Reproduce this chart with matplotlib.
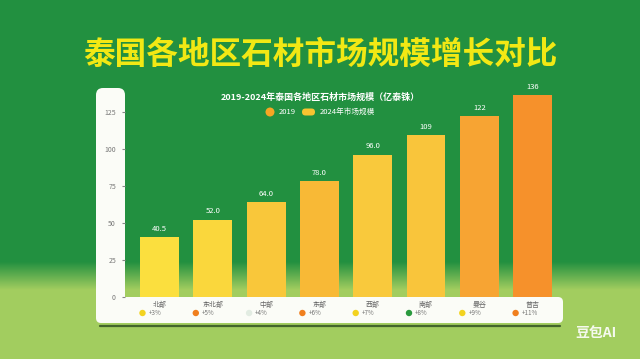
import numpy as np
import matplotlib
matplotlib.use('Agg')
import matplotlib.pyplot as plt
from matplotlib.patches import FancyBboxPatch, Circle

plt.rcParams['font.family'] = ['Noto Sans CJK SC', 'DejaVu Sans']

# data
regions = ['北部', '东北部', '中部', '东部', '西部', '南部', '曼谷', '普吉']
sizes = [40.5, 52, 64, 78, 96, 109, 122, 136]
value_labels = ['40.5', '52.0', '64.0', '78.0', '96.0', '109', '122', '136']
growth = ['+3%', '+5%', '+4%', '+6%', '+7%', '+8%', '+9%', '+11%']
yticks = [0, 25, 50, 75, 100, 125]
bar_colors = ['#fbdf3e', '#fad73c', '#f9c73a', '#f8b936', '#f9c93c', '#f9c53b', '#f7a433', '#f6912b']
dot_colors = ['#f3d320', '#f07f1e', '#e2ece2', '#f07f1e', '#f3d320', '#2a9a3e', '#f3d320', '#f07f1e']

W, H = 640, 359
fig = plt.figure(figsize=(6.4, 3.59), dpi=100)

# background gradient
bg = fig.add_axes([0, 0, 1, 1])
bg.set_axis_off()
rows = np.linspace(0, 1, H)
top = np.array([0x22, 0x90, 0x40]) / 255
low = np.array([0xa2, 0xcd, 0x5f]) / 255
t = np.clip((rows * H - 262) / 28, 0, 1)[:, None]
grad = top * (1 - t) + low * t
img = np.repeat(grad[:, None, :], 8, axis=1)
bg.imshow(img, aspect='auto', extent=[0, W, H, 0])
bg.set_xlim(0, W)
bg.set_ylim(H, 0)

# shadow under panel
bg.plot([100, 560], [325.5, 325.5], color='#24421a', lw=1.6, alpha=0.75, solid_capstyle='round')

# white panels
bg.add_patch(FancyBboxPatch((96, 88), 29, 234, boxstyle='round,pad=0,rounding_size=7',
                            fc='#fbfcf7', ec='none'))
bg.add_patch(FancyBboxPatch((96, 297), 467, 26, boxstyle='round,pad=0,rounding_size=5',
                            fc='#fbfcf7', ec='none'))

# title, subtitle
bg.text(320, 55, '泰国各地区石材市场规模增长对比', color='#f2e814', fontsize=22.8,
        fontweight='bold', ha='center', va='center')
bg.text(320, 97, '2019-2024年泰国各地区石材市场规模（亿泰铢）', color='white', fontsize=6.5,
        fontweight='bold', ha='center', va='center')

# legend
bg.add_patch(Circle((270, 112), 4.5, fc='#f6a623', ec='none'))
bg.text(279, 112, '2019', color='white', fontsize=5.5, ha='left', va='center')
bg.add_patch(FancyBboxPatch((302, 108.5), 13, 7, boxstyle='round,pad=0,rounding_size=3.5',
                            fc='#f8c431', ec='none'))
bg.text(320, 112, '2024年市场规模', color='white', fontsize=5.5, ha='left', va='center')

# category labels and dots
step = 53.3
for i in range(len(regions)):
    cx = 159.5 + i * step
    bg.text(cx, 305, regions[i], color='#666666', fontsize=5, ha='center', va='center')
    bg.add_patch(Circle((cx - 17, 313), 3.2, fc=dot_colors[i], ec='none'))
    bg.text(cx - 11, 313, growth[i], color='#777777', fontsize=4.5, ha='left', va='center')

# watermark
bg.text(596, 333, '豆包AI', color='white', fontsize=10, fontweight='bold',
        ha='center', va='center', alpha=0.9)

# bar axes
ax = fig.add_axes([125 / W, 1 - 297 / H, (563 - 125) / W, (297 - 88) / H])
ax.patch.set_alpha(0)
x = np.arange(len(regions))
ax.bar(x, sizes, width=0.73, color=bar_colors, zorder=3)
for i in range(len(sizes)):
    ax.text(x[i], sizes[i] + 3, value_labels[i], color='white', fontsize=5.5,
            ha='center', va='bottom')
ax.set_xlim(-0.647, 7.57)
ax.set_ylim(0, 141)
ax.set_yticks(yticks)
ax.set_yticklabels([str(v) for v in yticks], fontsize=5, color='#777777')
ax.tick_params(axis='y', length=2.5, color='#888888', pad=4)
ax.set_xticks([])
for s in ax.spines.values():
    s.set_visible(False)

fig.savefig('out.png', dpi=100)
